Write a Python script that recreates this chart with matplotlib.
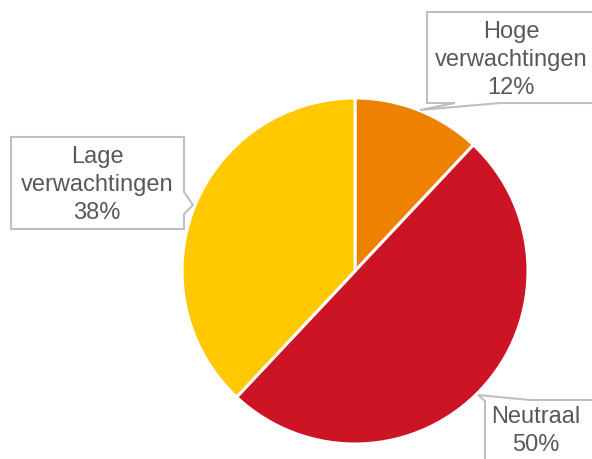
import matplotlib
matplotlib.use("Agg")
import matplotlib.pyplot as plt
from matplotlib.patches import Polygon

labels = ["Hoge\nverwachtingen", "Neutraal", "Lage\nverwachtingen"]
values = [12, 50, 38]
colors = ["#EE8200", "#CC1424", "#FFC800"]

W, H = 592, 459
fig = plt.figure(figsize=(W / 100, H / 100), dpi=100)
ax = fig.add_axes([0, 0, 1, 1])
ax.set_xlim(0, W)
ax.set_ylim(0, H)
ax.set_aspect("equal")
ax.axis("off")

def P(x, y):
    return (x, H - y)

cx, cy, r = 355, 271, 173
ax.pie(values, colors=colors, startangle=90, counterclock=False,
       center=P(cx, cy), radius=r, frame=True,
       wedgeprops=dict(edgecolor="white", linewidth=2.2))
ax.set_xlim(0, W)
ax.set_ylim(0, H)
ax.axis("off")

edge = "#BFBFBF"
boxes = [
    [(427, 12), (600, 12), (600, 103), (500, 103), (420, 110), (455, 103), (427, 103)],
    [(11, 137), (184, 137), (184, 192), (193, 205), (184, 214), (184, 229), (11, 229)],
    [(485, 470), (485, 401), (478, 395), (530, 400), (600, 400), (600, 470)],
]
for b in boxes:
    ax.add_patch(Polygon([P(x, y) for x, y in b], closed=True, facecolor="white",
                         edgecolor=edge, linewidth=1.5, zorder=3))

font = dict(family=["Liberation Sans", "DejaVu Sans"], fontsize=17, color="#595959",
            ha="center", va="center", linespacing=1.38, zorder=4)
texts = [
    (511, 60, f"{labels[0]}\n{values[0]}%"),
    (97, 185, f"{labels[2]}\n{values[2]}%"),
    (536, 431, f"{labels[1]}\n{values[1]}%"),
]
for x, y, t in texts:
    ax.text(*P(x, y), t, **font)

fig.savefig("out.png", dpi=100)
